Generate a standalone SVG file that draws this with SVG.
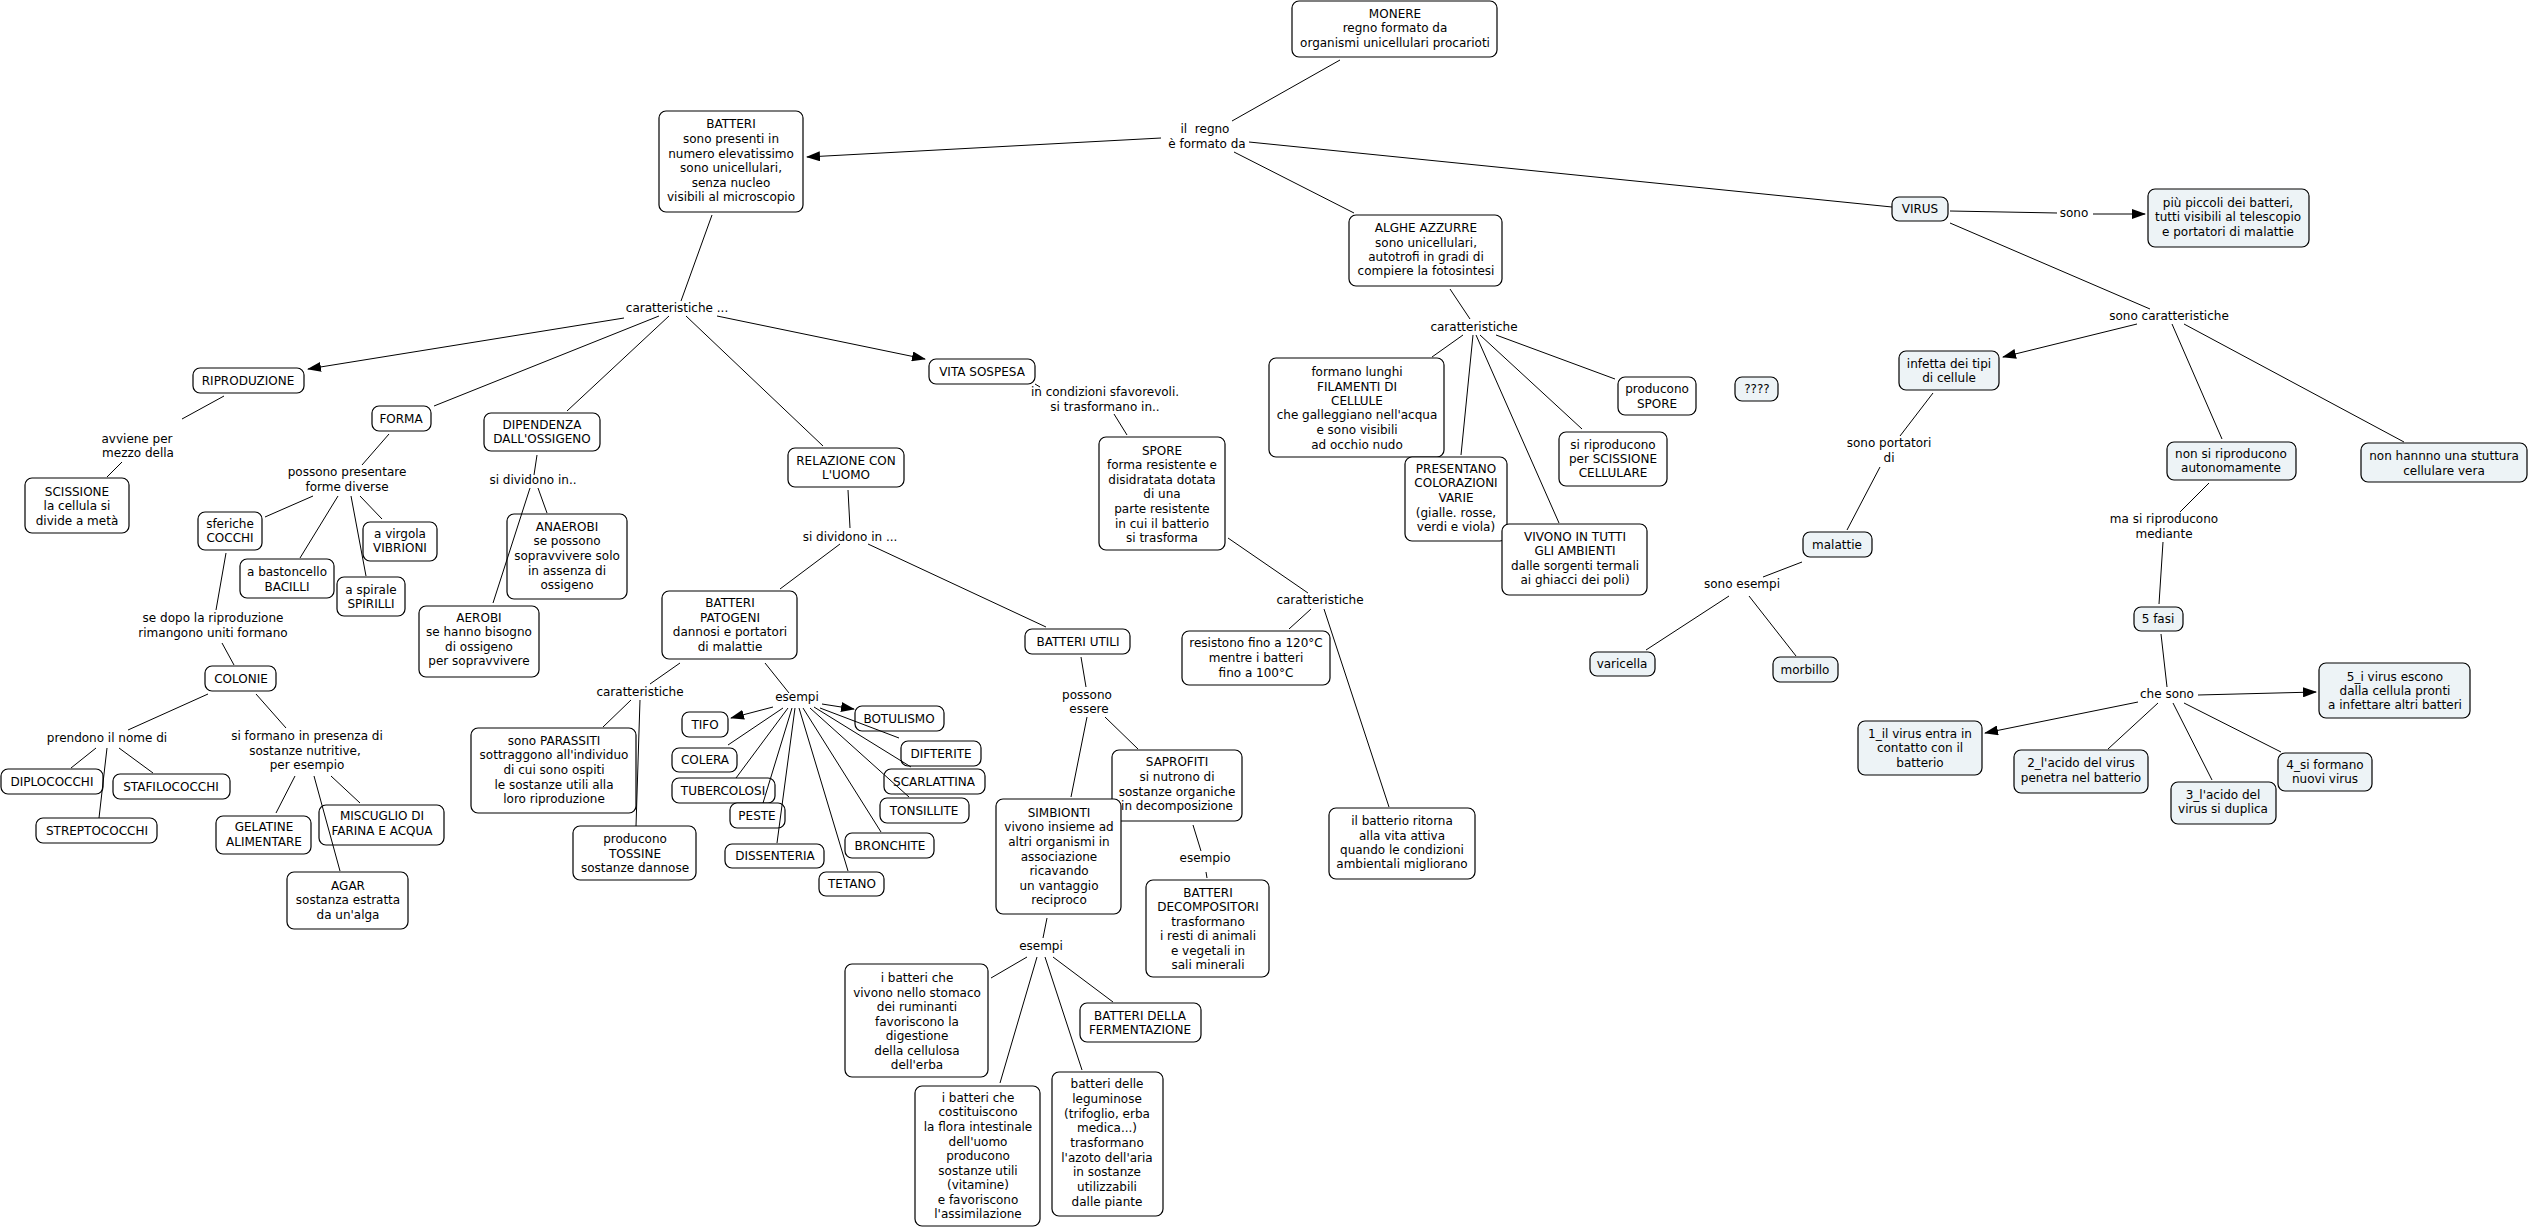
<svg xmlns="http://www.w3.org/2000/svg" width="2529" height="1229" viewBox="0 0 2529 1229">
<defs>
<marker id="arr" markerWidth="14" markerHeight="10" refX="13" refY="5" orient="auto" markerUnits="userSpaceOnUse"><path d="M0,0 L14,5 L0,10 z" fill="#000"/></marker>
<style>
rect{fill:#fff;stroke:#000;stroke-width:1.2}
.v rect{fill:#edf3f6}
text{font-family:"DejaVu Sans",Verdana,sans-serif;font-size:12px;text-anchor:middle;fill:#000}
#connectors line{stroke:#000;stroke-width:1;fill:none}
#connectors line.a{marker-end:url(#arr)}
</style>
</defs>
<rect x="0" y="0" width="2529" height="1229" style="fill:#fff;stroke:none"/>
<g id="link-labels">
<text><tspan x="1205" y="133">il&#160; regno</tspan><tspan x="1207" y="148">è formato da</tspan></text>
<text x="677" y="312">caratteristiche ...</text>
<text><tspan x="1105" y="396">in condizioni sfavorevoli.</tspan><tspan x="1105" y="411">si trasformano in..</tspan></text>
<text><tspan x="137" y="443">avviene per</tspan><tspan x="138" y="457">mezzo della</tspan></text>
<text><tspan x="347" y="476">possono presentare</tspan><tspan x="347" y="491">forme diverse</tspan></text>
<text x="533" y="484">si dividono in..</text>
<text><tspan x="213" y="622">se dopo la riproduzione</tspan><tspan x="213" y="637">rimangono uniti formano</tspan></text>
<text x="107" y="742">prendono il nome di</text>
<text><tspan x="307" y="740">si formano in presenza di</tspan><tspan x="305" y="755">sostanze nutritive,</tspan><tspan x="307" y="769">per esempio</tspan></text>
<text x="850" y="541">si dividono in ...</text>
<text x="640" y="696">caratteristiche</text>
<text x="797" y="701">esempi</text>
<text><tspan x="1087" y="699">possono</tspan><tspan x="1089" y="713">essere</tspan></text>
<text x="1041" y="950">esempi</text>
<text x="1205" y="862">esempio</text>
<text x="1320" y="604">caratteristiche</text>
<text x="1474" y="331">caratteristiche</text>
<text x="2074" y="217">sono</text>
<text x="2169" y="320">sono caratteristiche</text>
<text><tspan x="1889" y="447">sono portatori</tspan><tspan x="1889" y="462">di</tspan></text>
<text x="1742" y="588">sono esempi</text>
<text><tspan x="2164" y="523">ma si riproducono</tspan><tspan x="2164" y="538">mediante</tspan></text>
<text x="2167" y="698">che sono</text>
</g>
<g id="n-monere"><rect x="1292" y="1" width="205" height="56" rx="7"/><text><tspan x="1395" y="18">MONERE</tspan><tspan x="1395" y="32">regno formato da</tspan><tspan x="1395" y="47">organismi unicellulari procarioti</tspan></text></g>
<g id="n-batteri"><rect x="659" y="111" width="144" height="101" rx="7"/><text><tspan x="731" y="128">BATTERI</tspan><tspan x="731" y="143">sono presenti in</tspan><tspan x="731" y="158">numero elevatissimo</tspan><tspan x="731" y="172">sono unicellulari,</tspan><tspan x="731" y="187">senza nucleo</tspan><tspan x="731" y="201">visibili al microscopio</tspan></text></g>
<g id="n-alghe"><rect x="1349" y="215" width="153" height="71" rx="7"/><text><tspan x="1426" y="232">ALGHE AZZURRE</tspan><tspan x="1426" y="247">sono unicellulari,</tspan><tspan x="1426" y="261">autotrofi in gradi di</tspan><tspan x="1426" y="275">compiere la fotosintesi</tspan></text></g>
<g id="n-virus" class="v"><rect x="1892" y="197" width="56" height="24" rx="7"/><text x="1920" y="213">VIRUS</text></g>
<g id="n-piccoli" class="v"><rect x="2148" y="189" width="161" height="58" rx="7"/><text><tspan x="2228" y="207">più piccoli dei batteri,</tspan><tspan x="2228" y="221">tutti visibili al telescopio</tspan><tspan x="2228" y="236">e portatori di malattie</tspan></text></g>
<g id="n-riproduzione"><rect x="193" y="368" width="111" height="25" rx="7"/><text x="248" y="385">RIPRODUZIONE</text></g>
<g id="n-forma"><rect x="372" y="406" width="59" height="25" rx="7"/><text x="401" y="423">FORMA</text></g>
<g id="n-dipendenza"><rect x="484" y="413" width="116" height="38" rx="7"/><text><tspan x="542" y="429">DIPENDENZA</tspan><tspan x="542" y="443">DALL'OSSIGENO</tspan></text></g>
<g id="n-vita"><rect x="929" y="359" width="106" height="25" rx="7"/><text x="982" y="376">VITA SOSPESA</text></g>
<g id="n-relazione"><rect x="788" y="448" width="116" height="39" rx="7"/><text><tspan x="846" y="465">RELAZIONE CON</tspan><tspan x="846" y="479">L'UOMO</tspan></text></g>
<g id="n-spore"><rect x="1099" y="437" width="126" height="113" rx="7"/><text><tspan x="1162" y="455">SPORE</tspan><tspan x="1162" y="469">forma resistente e</tspan><tspan x="1162" y="484">disidratata dotata</tspan><tspan x="1162" y="498">di una</tspan><tspan x="1162" y="513">parte resistente</tspan><tspan x="1162" y="528">in cui il batterio</tspan><tspan x="1162" y="542">si trasforma</tspan></text></g>
<g id="n-scissione"><rect x="25" y="478" width="104" height="55" rx="7"/><text><tspan x="77" y="496">SCISSIONE</tspan><tspan x="77" y="510">la cellula si</tspan><tspan x="77" y="525">divide a metà</tspan></text></g>
<g id="n-cocchi"><rect x="198" y="512" width="64" height="38" rx="7"/><text><tspan x="230" y="528">sferiche</tspan><tspan x="230" y="542">COCCHI</tspan></text></g>
<g id="n-bacilli"><rect x="240" y="559" width="94" height="39" rx="7"/><text><tspan x="287" y="576">a bastoncello</tspan><tspan x="287" y="591">BACILLI</tspan></text></g>
<g id="n-vibrioni"><rect x="363" y="522" width="74" height="39" rx="7"/><text><tspan x="400" y="538">a virgola</tspan><tspan x="400" y="552">VIBRIONI</tspan></text></g>
<g id="n-spirilli"><rect x="337" y="577" width="68" height="39" rx="7"/><text><tspan x="371" y="594">a spirale</tspan><tspan x="371" y="608">SPIRILLI</tspan></text></g>
<g id="n-colonie"><rect x="205" y="666" width="71" height="25" rx="7"/><text x="241" y="683">COLONIE</text></g>
<g id="n-diplococchi"><rect x="1" y="769" width="102" height="25" rx="7"/><text x="52" y="786">DIPLOCOCCHI</text></g>
<g id="n-stafilococchi"><rect x="113" y="774" width="117" height="25" rx="7"/><text x="171" y="791">STAFILOCOCCHI</text></g>
<g id="n-streptococchi"><rect x="36" y="818" width="121" height="25" rx="7"/><text x="97" y="835">STREPTOCOCCHI</text></g>
<g id="n-gelatine"><rect x="216" y="816" width="95" height="38" rx="7"/><text><tspan x="264" y="831">GELATINE</tspan><tspan x="264" y="846">ALIMENTARE</tspan></text></g>
<g id="n-miscuglio"><rect x="319" y="805" width="125" height="40" rx="7"/><text><tspan x="382" y="820">MISCUGLIO DI</tspan><tspan x="382" y="835">FARINA E ACQUA</tspan></text></g>
<g id="n-agar"><rect x="287" y="872" width="121" height="57" rx="7"/><text><tspan x="348" y="890">AGAR</tspan><tspan x="348" y="904">sostanza estratta</tspan><tspan x="348" y="919">da un'alga</tspan></text></g>
<g id="n-anaerobi"><rect x="507" y="514" width="120" height="85" rx="7"/><text><tspan x="567" y="531">ANAEROBI</tspan><tspan x="567" y="545">se possono</tspan><tspan x="567" y="560">sopravvivere solo</tspan><tspan x="567" y="575">in assenza di</tspan><tspan x="567" y="589">ossigeno</tspan></text></g>
<g id="n-aerobi"><rect x="419" y="606" width="120" height="71" rx="7"/><text><tspan x="479" y="622">AEROBI</tspan><tspan x="479" y="636">se hanno bisogno</tspan><tspan x="479" y="651">di ossigeno</tspan><tspan x="479" y="665">per sopravvivere</tspan></text></g>
<g id="n-patogeni"><rect x="662" y="591" width="135" height="68" rx="7"/><text><tspan x="730" y="607">BATTERI</tspan><tspan x="730" y="622">PATOGENI</tspan><tspan x="730" y="636">dannosi e portatori</tspan><tspan x="730" y="651">di malattie</tspan></text></g>
<g id="n-parassiti"><rect x="471" y="728" width="165" height="85" rx="7"/><text><tspan x="554" y="745">sono PARASSITI</tspan><tspan x="554" y="759">sottraggono all'individuo</tspan><tspan x="554" y="774">di cui sono ospiti</tspan><tspan x="554" y="789">le sostanze utili alla</tspan><tspan x="554" y="803">loro riproduzione</tspan></text></g>
<g id="n-tossine"><rect x="573" y="826" width="123" height="54" rx="7"/><text><tspan x="635" y="843">producono</tspan><tspan x="635" y="858">TOSSINE</tspan><tspan x="635" y="872">sostanze dannose</tspan></text></g>
<g id="n-tifo"><rect x="682" y="712" width="46" height="25" rx="7"/><text x="705" y="729">TIFO</text></g>
<g id="n-colera"><rect x="672" y="748" width="65" height="24" rx="7"/><text x="705" y="764">COLERA</text></g>
<g id="n-tubercolosi"><rect x="672" y="778" width="103" height="25" rx="7"/><text x="723" y="795">TUBERCOLOSI</text></g>
<g id="n-peste"><rect x="730" y="803" width="55" height="25" rx="7"/><text x="757" y="820">PESTE</text></g>
<g id="n-botulismo"><rect x="855" y="706" width="89" height="25" rx="7"/><text x="899" y="723">BOTULISMO</text></g>
<g id="n-difterite"><rect x="901" y="741" width="80" height="25" rx="7"/><text x="941" y="758">DIFTERITE</text></g>
<g id="n-scarlattina"><rect x="884" y="769" width="101" height="25" rx="7"/><text x="934" y="786">SCARLATTINA</text></g>
<g id="n-tonsillite"><rect x="880" y="798" width="89" height="25" rx="7"/><text x="924" y="815">TONSILLITE</text></g>
<g id="n-dissenteria"><rect x="725" y="844" width="99" height="24" rx="7"/><text x="775" y="860">DISSENTERIA</text></g>
<g id="n-tetano"><rect x="819" y="872" width="65" height="24" rx="7"/><text x="852" y="888">TETANO</text></g>
<g id="n-bronchite"><rect x="845" y="833" width="89" height="25" rx="7"/><text x="890" y="850">BRONCHITE</text></g>
<g id="n-utili"><rect x="1025" y="629" width="105" height="25" rx="7"/><text x="1078" y="646">BATTERI UTILI</text></g>
<g id="n-saprofiti"><rect x="1112" y="750" width="130" height="71" rx="7"/><text><tspan x="1177" y="766">SAPROFITI</tspan><tspan x="1177" y="781">si nutrono di</tspan><tspan x="1177" y="796">sostanze organiche</tspan><tspan x="1177" y="810">in decomposizione</tspan></text></g>
<g id="n-simbionti"><rect x="996" y="799" width="125" height="115" rx="7"/><text><tspan x="1059" y="817">SIMBIONTI</tspan><tspan x="1059" y="831">vivono insieme ad</tspan><tspan x="1059" y="846">altri organismi in</tspan><tspan x="1059" y="861">associazione</tspan><tspan x="1059" y="875">ricavando</tspan><tspan x="1059" y="890">un vantaggio</tspan><tspan x="1059" y="904">reciproco</tspan></text></g>
<g id="n-decompositori"><rect x="1146" y="880" width="123" height="97" rx="7"/><text><tspan x="1208" y="897">BATTERI</tspan><tspan x="1208" y="911">DECOMPOSITORI</tspan><tspan x="1208" y="926">trasformano</tspan><tspan x="1208" y="940">i resti di animali</tspan><tspan x="1208" y="955">e vegetali in</tspan><tspan x="1208" y="969">sali minerali</tspan></text></g>
<g id="n-stomaco"><rect x="845" y="964" width="143" height="113" rx="7"/><text><tspan x="917" y="982">i batteri che</tspan><tspan x="917" y="997">vivono nello stomaco</tspan><tspan x="917" y="1011">dei ruminanti</tspan><tspan x="917" y="1026">favoriscono la</tspan><tspan x="917" y="1040">digestione</tspan><tspan x="917" y="1055">della cellulosa</tspan><tspan x="917" y="1069">dell'erba</tspan></text></g>
<g id="n-fermentazione"><rect x="1080" y="1003" width="121" height="39" rx="7"/><text><tspan x="1140" y="1020">BATTERI DELLA</tspan><tspan x="1140" y="1034">FERMENTAZIONE</tspan></text></g>
<g id="n-flora"><rect x="915" y="1086" width="125" height="140" rx="7"/><text><tspan x="978" y="1102">i batteri che</tspan><tspan x="978" y="1116">costituiscono</tspan><tspan x="978" y="1131">la flora intestinale</tspan><tspan x="978" y="1146">dell'uomo</tspan><tspan x="978" y="1160">producono</tspan><tspan x="978" y="1175">sostanze utili</tspan><tspan x="978" y="1189">(vitamine)</tspan><tspan x="978" y="1204">e favoriscono</tspan><tspan x="978" y="1218">l'assimilazione</tspan></text></g>
<g id="n-leguminose"><rect x="1052" y="1072" width="111" height="144" rx="7"/><text><tspan x="1107" y="1088">batteri delle</tspan><tspan x="1107" y="1103">leguminose</tspan><tspan x="1107" y="1118">(trifoglio, erba</tspan><tspan x="1107" y="1132">medica...)</tspan><tspan x="1107" y="1147">trasformano</tspan><tspan x="1107" y="1162">l'azoto dell'aria</tspan><tspan x="1107" y="1176">in sostanze</tspan><tspan x="1107" y="1191">utilizzabili</tspan><tspan x="1107" y="1206">dalle piante</tspan></text></g>
<g id="n-resistono"><rect x="1182" y="631" width="148" height="54" rx="7"/><text><tspan x="1256" y="647">resistono fino a 120°C</tspan><tspan x="1256" y="662">mentre i batteri</tspan><tspan x="1256" y="677">fino a 100°C</tspan></text></g>
<g id="n-ritorna"><rect x="1329" y="808" width="146" height="71" rx="7"/><text><tspan x="1402" y="825">il batterio ritorna</tspan><tspan x="1402" y="840">alla vita attiva</tspan><tspan x="1402" y="854">quando le condizioni</tspan><tspan x="1402" y="868">ambientali migliorano</tspan></text></g>
<g id="n-filamenti"><rect x="1269" y="358" width="175" height="99" rx="7"/><text><tspan x="1357" y="376">formano lunghi</tspan><tspan x="1357" y="391">FILAMENTI DI</tspan><tspan x="1357" y="405">CELLULE</tspan><tspan x="1357" y="419">che galleggiano nell'acqua</tspan><tspan x="1357" y="434">e sono visibili</tspan><tspan x="1357" y="449">ad occhio nudo</tspan></text></g>
<g id="n-colorazioni"><rect x="1405" y="457" width="102" height="84" rx="7"/><text><tspan x="1456" y="473">PRESENTANO</tspan><tspan x="1456" y="487">COLORAZIONI</tspan><tspan x="1456" y="502">VARIE</tspan><tspan x="1456" y="517">(gialle. rosse,</tspan><tspan x="1456" y="531">verdi e viola)</tspan></text></g>
<g id="n-vivono"><rect x="1502" y="524" width="145" height="71" rx="7"/><text><tspan x="1575" y="541">VIVONO IN TUTTI</tspan><tspan x="1575" y="555">GLI AMBIENTI</tspan><tspan x="1575" y="570">dalle sorgenti termali</tspan><tspan x="1575" y="584">ai ghiacci dei poli)</tspan></text></g>
<g id="n-scissione-cell"><rect x="1559" y="432" width="108" height="54" rx="7"/><text><tspan x="1613" y="449">si riproducono</tspan><tspan x="1613" y="463">per SCISSIONE</tspan><tspan x="1613" y="477">CELLULARE</tspan></text></g>
<g id="n-producono-spore"><rect x="1618" y="377" width="78" height="38" rx="7"/><text><tspan x="1657" y="393">producono</tspan><tspan x="1657" y="408">SPORE</tspan></text></g>
<g id="n-qqq" class="v"><rect x="1735" y="377" width="43" height="24" rx="7"/><text x="1757" y="393">????</text></g>
<g id="n-infetta" class="v"><rect x="1899" y="351" width="100" height="39" rx="7"/><text><tspan x="1949" y="368">infetta dei tipi</tspan><tspan x="1949" y="382">di cellule</tspan></text></g>
<g id="n-malattie" class="v"><rect x="1803" y="532" width="69" height="25" rx="7"/><text x="1837" y="549">malattie</text></g>
<g id="n-varicella" class="v"><rect x="1590" y="652" width="65" height="24" rx="7"/><text x="1622" y="668">varicella</text></g>
<g id="n-morbillo" class="v"><rect x="1773" y="657" width="65" height="25" rx="7"/><text x="1805" y="674">morbillo</text></g>
<g id="n-nonripro" class="v"><rect x="2167" y="442" width="129" height="38" rx="7"/><text><tspan x="2231" y="458">non si riproducono</tspan><tspan x="2231" y="472">autonomamente</tspan></text></g>
<g id="n-struttura" class="v"><rect x="2361" y="443" width="166" height="39" rx="7"/><text><tspan x="2444" y="460">non hannno una stuttura</tspan><tspan x="2444" y="475">cellulare vera</tspan></text></g>
<g id="n-5fasi" class="v"><rect x="2134" y="607" width="49" height="24" rx="7"/><text x="2158" y="623">5 fasi</text></g>
<g id="n-fase1" class="v"><rect x="1858" y="721" width="124" height="54" rx="7"/><text><tspan x="1920" y="738">1_il virus entra in</tspan><tspan x="1920" y="752">contatto con il</tspan><tspan x="1920" y="767">batterio</tspan></text></g>
<g id="n-fase2" class="v"><rect x="2014" y="750" width="134" height="43" rx="7"/><text><tspan x="2081" y="767">2_l'acido del virus</tspan><tspan x="2081" y="782">penetra nel batterio</tspan></text></g>
<g id="n-fase3" class="v"><rect x="2171" y="782" width="105" height="42" rx="7"/><text><tspan x="2223" y="799">3_l'acido del</tspan><tspan x="2223" y="813">virus si duplica</tspan></text></g>
<g id="n-fase4" class="v"><rect x="2278" y="753" width="94" height="38" rx="7"/><text><tspan x="2325" y="769">4_si formano</tspan><tspan x="2325" y="783">nuovi virus</tspan></text></g>
<g id="n-fase5" class="v"><rect x="2319" y="663" width="151" height="55" rx="7"/><text><tspan x="2395" y="681">5_i virus escono</tspan><tspan x="2395" y="695">dalla cellula pronti</tspan><tspan x="2395" y="709">a infettare altri batteri</tspan></text></g>
<g id="connectors">
<line class="a" x1="1161" y1="138" x2="807" y2="157"/>
<line class="a" x1="624" y1="318" x2="308" y2="369"/>
<line class="a" x1="717" y1="316" x2="925" y2="359"/>
<line class="a" x1="773" y1="707" x2="731" y2="718"/>
<line class="a" x1="822" y1="704" x2="854" y2="709"/>
<line class="a" x1="2093" y1="214" x2="2145" y2="214"/>
<line class="a" x1="2137" y1="324" x2="2003" y2="357"/>
<line class="a" x1="2198" y1="695" x2="2316" y2="692"/>
<line class="a" x1="2138" y1="702" x2="1985" y2="733"/>
<line x1="1232" y1="121" x2="1340" y2="60"/>
<line x1="1249" y1="142" x2="1892" y2="207"/>
<line x1="1234" y1="152" x2="1354" y2="213"/>
<line x1="712" y1="215" x2="681" y2="301"/>
<line x1="659" y1="316" x2="434" y2="406"/>
<line x1="669" y1="316" x2="567" y2="411"/>
<line x1="686" y1="316" x2="823" y2="446"/>
<line x1="1035" y1="384" x2="1040" y2="387"/>
<line x1="1114" y1="414" x2="1127" y2="435"/>
<line x1="224" y1="396" x2="182" y2="419"/>
<line x1="122" y1="462" x2="107" y2="477"/>
<line x1="389" y1="434" x2="362" y2="465"/>
<line x1="313" y1="496" x2="265" y2="517"/>
<line x1="338" y1="496" x2="300" y2="558"/>
<line x1="351" y1="496" x2="366" y2="576"/>
<line x1="360" y1="496" x2="382" y2="519"/>
<line x1="226" y1="553" x2="216" y2="610"/>
<line x1="222" y1="643" x2="234" y2="665"/>
<line x1="208" y1="694" x2="128" y2="730"/>
<line x1="256" y1="694" x2="286" y2="728"/>
<line x1="96" y1="748" x2="71" y2="768"/>
<line x1="107" y1="748" x2="99" y2="818"/>
<line x1="119" y1="748" x2="153" y2="773"/>
<line x1="295" y1="776" x2="276" y2="813"/>
<line x1="314" y1="776" x2="340" y2="871"/>
<line x1="331" y1="776" x2="360" y2="803"/>
<line x1="537" y1="455" x2="534" y2="475"/>
<line x1="538" y1="488" x2="547" y2="513"/>
<line x1="530" y1="488" x2="493" y2="603"/>
<line x1="848" y1="490" x2="850" y2="528"/>
<line x1="840" y1="544" x2="780" y2="589"/>
<line x1="868" y1="544" x2="1046" y2="627"/>
<line x1="680" y1="663" x2="650" y2="684"/>
<line x1="631" y1="700" x2="603" y2="727"/>
<line x1="640" y1="700" x2="636" y2="826"/>
<line x1="765" y1="663" x2="789" y2="693"/>
<line x1="783" y1="708" x2="728" y2="745"/>
<line x1="788" y1="708" x2="736" y2="778"/>
<line x1="792" y1="708" x2="763" y2="803"/>
<line x1="795" y1="708" x2="777" y2="843"/>
<line x1="799" y1="708" x2="848" y2="871"/>
<line x1="803" y1="708" x2="881" y2="832"/>
<line x1="810" y1="708" x2="909" y2="797"/>
<line x1="814" y1="707" x2="911" y2="767"/>
<line x1="820" y1="708" x2="899" y2="738"/>
<line x1="1081" y1="657" x2="1086" y2="687"/>
<line x1="1087" y1="717" x2="1071" y2="797"/>
<line x1="1105" y1="717" x2="1138" y2="749"/>
<line x1="1047" y1="918" x2="1043" y2="938"/>
<line x1="1027" y1="957" x2="991" y2="978"/>
<line x1="1037" y1="957" x2="1000" y2="1083"/>
<line x1="1045" y1="957" x2="1082" y2="1070"/>
<line x1="1053" y1="957" x2="1113" y2="1002"/>
<line x1="1193" y1="825" x2="1201" y2="851"/>
<line x1="1206" y1="872" x2="1207" y2="878"/>
<line x1="1228" y1="538" x2="1308" y2="593"/>
<line x1="1311" y1="609" x2="1289" y2="629"/>
<line x1="1324" y1="609" x2="1389" y2="807"/>
<line x1="1450" y1="289" x2="1470" y2="319"/>
<line x1="1463" y1="335" x2="1432" y2="357"/>
<line x1="1473" y1="335" x2="1461" y2="455"/>
<line x1="1476" y1="335" x2="1559" y2="523"/>
<line x1="1480" y1="335" x2="1582" y2="429"/>
<line x1="1496" y1="335" x2="1615" y2="379"/>
<line x1="1950" y1="211" x2="2057" y2="213"/>
<line x1="1950" y1="223" x2="2150" y2="309"/>
<line x1="2172" y1="324" x2="2222" y2="439"/>
<line x1="2184" y1="324" x2="2404" y2="442"/>
<line x1="1933" y1="393" x2="1900" y2="436"/>
<line x1="1880" y1="467" x2="1847" y2="530"/>
<line x1="1802" y1="562" x2="1763" y2="577"/>
<line x1="1729" y1="596" x2="1646" y2="650"/>
<line x1="1749" y1="596" x2="1796" y2="656"/>
<line x1="2209" y1="483" x2="2180" y2="512"/>
<line x1="2163" y1="542" x2="2159" y2="604"/>
<line x1="2161" y1="634" x2="2167" y2="687"/>
<line x1="2158" y1="703" x2="2108" y2="749"/>
<line x1="2173" y1="703" x2="2212" y2="780"/>
<line x1="2184" y1="703" x2="2281" y2="752"/>
</g>
</svg>
